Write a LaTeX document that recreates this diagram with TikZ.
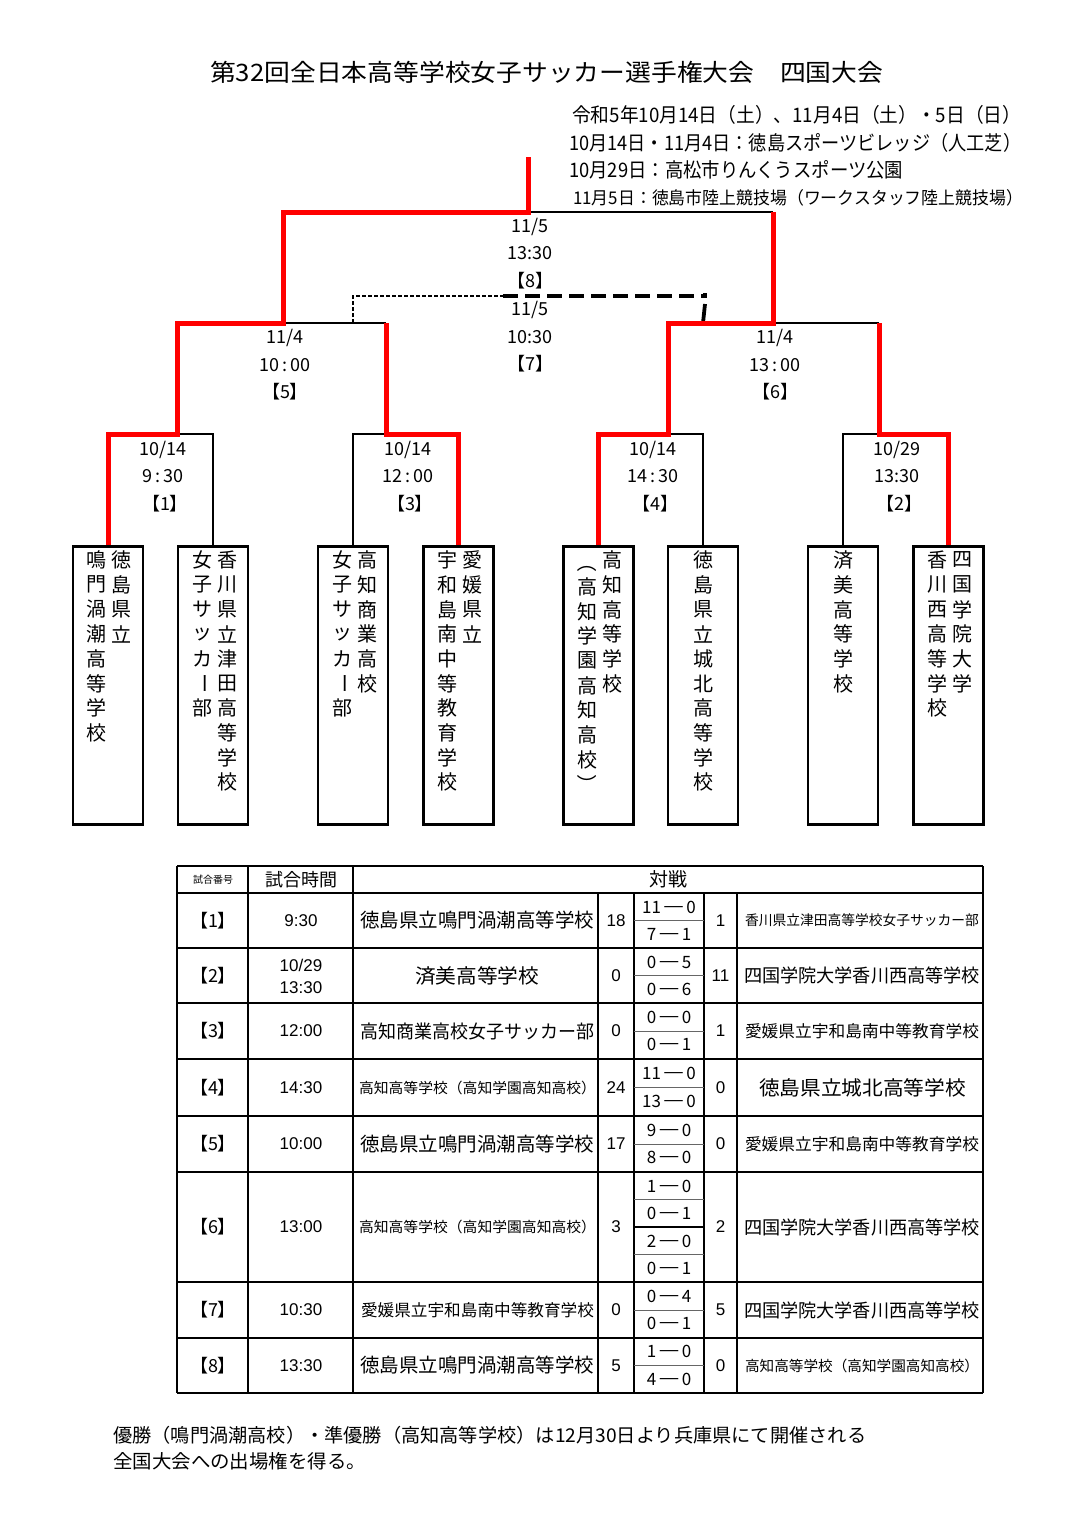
\documentclass[tikz,border=0pt]{standalone}
\usepackage{fontspec}
\usepackage{graphicx}
\setmainfont{Noto Sans CJK JP}
\newfontfamily\arialf{Liberation Sans}
\newcommand\fw[3]{\resizebox{#1}{\height}{\fontsize{#2}{#2}\selectfont #3}}
\newcommand\fs[2]{{\fontsize{#1}{#1}\selectfont #2}}
\newcommand\vcol[4]{%
  \foreach \c [count=\i] in {#4} \node[vch] (#1\i) at (#2,{#3+24.7*(\i-1)}) {\c};}
\newcommand\vbar{\rotatebox{-90}{ー}}
\newcommand\vlp{\rotatebox{-90}{（}}
\newcommand\vrp{\rotatebox{-90}{）}}
\newcommand\dsh{\resizebox{1.5\width}{\height}{－}}
\tikzset{
  blk/.style={line width=2pt, draw=black},
  redl/.style={line width=5pt, draw=red, line join=miter},
  teambox/.style={draw, line width=2.5pt, minimum width=70pt, minimum height=278pt, inner sep=0pt, anchor=north},
  lbl/.style={font=\fontsize{18}{18}\selectfont, inner sep=0pt},
  vch/.style={font=\fontsize{20}{20}\selectfont, inner sep=0pt},
  cell/.style={inner sep=0pt},
  tl/.style={line width=2.3pt},
  sl/.style={line width=0.9pt, draw=black!60},
}
\begin{document}
\begin{tikzpicture}[x=1pt,y=-1pt]
\useasboundingbox[fill=white] (0,0) rectangle (1078,1531);

% title and header
\node[cell, anchor=west] (title) at (210,72) {\fw{673pt}{24}{第32回全日本高等学校女子サッカー選手権大会　四国大会}};
\node[cell, anchor=west] (h1) at (572,115) {\fw{449pt}{20}{令和5年10月14日（土）、11月4日（土）・5日（日）}};
\node[cell, anchor=west] (h2) at (569,143) {\fw{452pt}{20}{10月14日・11月4日：徳島スポーツビレッジ（人工芝）}};
\node[cell, anchor=west] (h3) at (569,170) {\fw{334pt}{20}{10月29日：高松市りんくうスポーツ公園}};
\node[cell, anchor=west] (h4) at (573,198) {\fw{450pt}{17.5}{11月5日：徳島市陸上競技場（ワークスタッフ陸上競技場）}};

% team boxes
\node[teambox] (t1) at (108,545) {};
\node[teambox] (t2) at (213,545) {};
\node[teambox] (t3) at (353,545) {};
\node[teambox] (t4) at (458.5,545) {};
\node[teambox] (t5) at (598.5,545) {};
\node[teambox] (t6) at (703,545) {};
\node[teambox] (t7) at (843,545) {};
\node[teambox] (t8) at (948.5,545) {};

% vertical team names
\vcol{aR}{121}{560}{徳,島,県,立}
\vcol{aL}{96}{560}{鳴,門,渦,潮,高,等,学,校}
\vcol{bR}{227}{560}{香,川,県,立,津,田,高,等,学,校}
\vcol{bL}{202}{560}{女,子,サ,ッ,カ,\vbar,部}
\vcol{cR}{367}{560}{高,知,商,業,高,校}
\vcol{cL}{342}{560}{女,子,サ,ッ,カ,\vbar,部}
\vcol{dR}{472}{560}{愛,媛,県,立}
\vcol{dL}{447}{560}{宇,和,島,南,中,等,教,育,学,校}
\vcol{eR}{612}{560}{高,知,高,等,学,校}
\vcol{eL}{587}{562}{\vlp,高,知,学,園,高,知,高,校,\vrp}
\vcol{fC}{703}{560}{徳,島,県,立,城,北,高,等,学,校}
\vcol{gC}{843}{560}{済,美,高,等,学,校}
\vcol{hR}{962}{560}{四,国,学,院,大,学}
\vcol{hL}{937}{560}{香,川,西,高,等,学,校}

% bracket junctions
\coordinate (m1) at (177,434);
\coordinate (m3) at (386,434);
\coordinate (m4) at (668,434);
\coordinate (m2) at (879,434);
\coordinate (m5) at (283,323);
\coordinate (m6) at (773,323);
\coordinate (m8) at (528,212);
\coordinate (top) at (528,157);
\coordinate (d7a) at (503,296);

% black bracket lines
\draw[blk] (t1.north |- m1) -- (t2.north |- m1) -- (t2.north);
\draw[blk] (t3.north) -- (t3.north |- m3) -- (t4.north |- m3);
\draw[blk] (t5.north |- m4) -- (t6.north |- m4) -- (t6.north);
\draw[blk] (t7.north) -- (t7.north |- m2) -- (t8.north |- m2);
\draw[blk] (m1 |- m5) -- (m3 |- m5);
\draw[blk] (m4 |- m6) -- (m2 |- m6);
\draw[blk] (m5 |- m8) -- (m6 |- m8);

% third-place (dashed)
\draw[line width=1.6pt, dash pattern=on 4pt off 2pt] (t3.north |- m5) -- (t3.north |- d7a) -- (d7a);
\draw[line width=3.8pt, dash pattern=on 15pt off 7pt] (d7a) -- (705,296);
\draw[line width=3.8pt] (705,293) -- (705,298);
\draw[line width=3.8pt] (705,304) -- (t6.north |- m6);

% red winner paths
\draw[redl] (t1.north) -- (t1.north |- m1) -- (m1) -- (m1 |- m5) -- (m5) -- (m5 |- m8) -- (m8) -- (top);
\draw[redl] (t4.north) -- (t4.north |- m3) -- (m3) -- (m3 |- m5);
\draw[redl] (t5.north) -- (t5.north |- m4) -- (m4) -- (m4 |- m6) -- (m6) -- (m6 |- m8);
\draw[redl] (t8.north) -- (t8.north |- m2) -- (m2) -- (m2 |- m6);

% bracket labels
\node[lbl] (l8a) at (530,227) {11/5};
\node[lbl] (l8b) at (530,253) {13:30};
\node[lbl] (l8c) at (530,281) {【8】};
\node[lbl] (l7a) at (530,310) {11/5};
\node[lbl] (l7b) at (530,337) {10:30};
\node[lbl] (l7c) at (530,364) {【7】};
\node[lbl] (l5a) at (285,338) {11/4};
\node[lbl] (l5b) at (285,365) {10\,:\,00};
\node[lbl] (l5c) at (285,392) {【5】};
\node[lbl] (l6a) at (775,338) {11/4};
\node[lbl] (l6b) at (775,365) {13\,:\,00};
\node[lbl] (l6c) at (775,392) {【6】};
\node[lbl] (l1a) at (163,450) {10/14};
\node[lbl] (l1b) at (163,476) {9\,:\,30};
\node[lbl] (l1c) at (165,504) {【1】};
\node[lbl] (l3a) at (408,450) {10/14};
\node[lbl] (l3b) at (408,476) {12\,:\,00};
\node[lbl] (l3c) at (410,504) {【3】};
\node[lbl] (l4a) at (653,450) {10/14};
\node[lbl] (l4b) at (653,476) {14\,:\,30};
\node[lbl] (l4c) at (655,504) {【4】};
\node[lbl] (l2a) at (897,450) {10/29};
\node[lbl] (l2b) at (897,476) {13:30};
\node[lbl] (l2c) at (899,504) {【2】};

% ---- table ----
\foreach \yy in {866,893,948,1003,1059,1116,1172,1282,1338,1393}
  \draw[tl] (177,\yy) -- (983,\yy);
\foreach \xx in {177,248,353,983}
  \draw[tl] (\xx,866) -- (\xx,1393);
\foreach \xx in {598,634,704,737}
  \draw[line width=2pt] (\xx,893) -- (\xx,1393);
\foreach \yy in {920.5,975.5,1031,1087.5,1144,1199.5,1254.5,1310,1365.5}
  \draw[sl] (634,\yy) -- (704,\yy);
\draw[line width=1.6pt] (634,1227) -- (704,1227);

% header
\node[cell] (hdA) at (213,879.5) {\fs{10}{試合番号}};
\node[cell] (hdB) at (301,879.5) {\fs{18}{試合時間}};
\node[cell] (hdC) at (668,879.5) {\fs{19}{対戦}};

% column 1 and 2
\foreach \n/\yc/\tm in {1/920.5/9:30, 3/1031/12:00, 4/1087.5/14:30, 5/1144/10:00, 6/1227/13:00, 7/1310/10:30, 8/1365.5/13:30} {
  \node[cell] (no\n) at (213,\yc) {\fs{18}{【\n】}};
  \node[cell] (tm\n) at (301,\yc) {\arialf\fs{17}{\tm}};
}
\node[cell] (no2) at (213,975.5) {\fs{18}{【2】}};
\node[cell] (tm2a) at (301,965) {\arialf\fs{17}{10/29}};
\node[cell] (tm2b) at (301,988) {\arialf\fs{17}{13:30}};

% team 1 column
\node[cell] (a1) at (477,920.5) {\fw{234pt}{19.5}{徳島県立鳴門渦潮高等学校}};
\node[cell] (a2) at (477,975.5) {\fw{124pt}{20}{済美高等学校}};
\node[cell] (a3) at (477,1031) {\fw{234pt}{18.5}{高知商業高校女子サッカー部}};
\node[cell] (a4) at (477.5,1087.5) {\fw{237pt}{14.5}{高知高等学校（高知学園高知高校）}};
\node[cell] (a5) at (477,1144) {\fw{234pt}{19.5}{徳島県立鳴門渦潮高等学校}};
\node[cell] (a6) at (477.5,1227) {\fw{237pt}{14.5}{高知高等学校（高知学園高知高校）}};
\node[cell] (a7) at (477.5,1310) {\fw{233pt}{16.5}{愛媛県立宇和島南中等教育学校}};
\node[cell] (a8) at (477,1365.5) {\fw{234pt}{19.5}{徳島県立鳴門渦潮高等学校}};

% team 2 column
\node[cell] (b1) at (862,920.5) {\fw{234pt}{14}{香川県立津田高等学校女子サッカー部}};
\node[cell] (b2) at (862,975.5) {\fw{236pt}{18.5}{四国学院大学香川西高等学校}};
\node[cell] (b3) at (862,1031) {\fw{234pt}{16.5}{愛媛県立宇和島南中等教育学校}};
\node[cell] (b4) at (862.5,1087.5) {\fw{207pt}{20}{徳島県立城北高等学校}};
\node[cell] (b5) at (862,1144) {\fw{234pt}{16.5}{愛媛県立宇和島南中等教育学校}};
\node[cell] (b6) at (862,1227) {\fw{236pt}{18.5}{四国学院大学香川西高等学校}};
\node[cell] (b7) at (862,1310) {\fw{236pt}{18.5}{四国学院大学香川西高等学校}};
\node[cell] (b8) at (862,1365.5) {\fw{234pt}{14.5}{高知高等学校（高知学園高知高校）}};

% total scores
\foreach \n/\yc/\sa/\sb in {1/920.5/18/1, 2/975.5/0/11, 3/1031/0/1, 4/1087.5/24/0, 5/1144/17/0, 6/1227/3/2, 7/1310/0/5, 8/1365.5/5/0} {
  \node[cell] (sa\n) at (616,\yc) {\arialf\fs{17}{\sa}};
  \node[cell] (sb\n) at (720.5,\yc) {\arialf\fs{17}{\sb}};
}

% game scores
\foreach \n/\ya/\la/\ra/\lb/\rb in {1/907/11/0/7/1, 2/962/0/5/0/6, 3/1017/0/0/0/1, 4/1073.5/11/0/13/0, 5/1130/9/0/8/0, 7/1296/0/4/0/1, 8/1351.5/1/0/4/0} {
  \node[cell] (ga\n) at (669,\ya) {\fs{17}{\la\dsh\ra}};
  \node[cell] (gb\n) at (669,\ya+27.5) {\fs{17}{\lb\dsh\rb}};
}
\node[cell] (g6a) at (669,1186) {\fs{17}{1\dsh0}};
\node[cell] (g6b) at (669,1213) {\fs{17}{0\dsh1}};
\node[cell] (g6c) at (669,1241) {\fs{17}{2\dsh0}};
\node[cell] (g6d) at (669,1268) {\fs{17}{0\dsh1}};

% footer
\node[cell, anchor=west] (f1) at (113,1435) {\fw{753pt}{19}{優勝（鳴門渦潮高校）・準優勝（高知高等学校）は12月30日より兵庫県にて開催される}};
\node[cell, anchor=west] (f2) at (113,1461) {\fw{253pt}{19}{全国大会への出場権を得る。}};
\end{tikzpicture}
\end{document}
